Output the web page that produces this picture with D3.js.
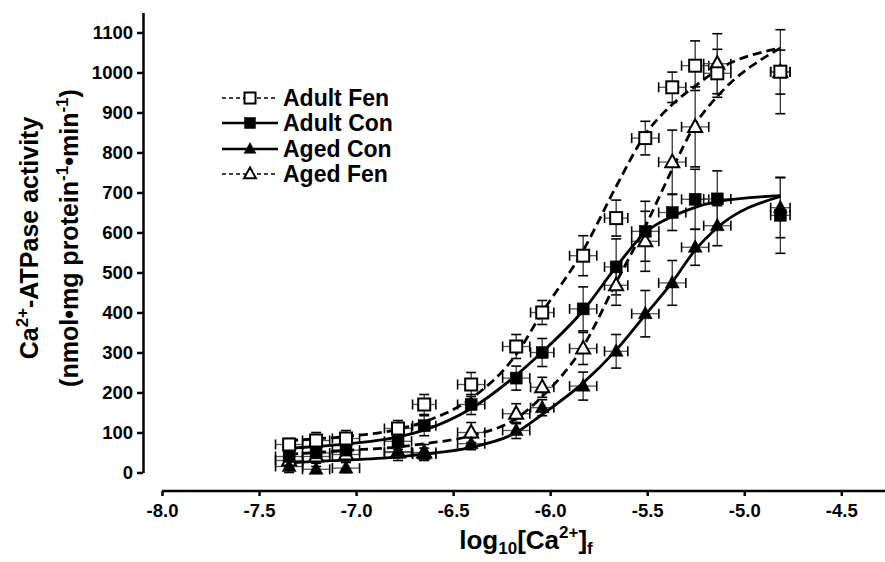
<!DOCTYPE html>
<html>
<head>
<meta charset="utf-8">
<script src="https://cdn.jsdelivr.net/npm/d3@7"></script>
<style>
  body { margin: 0; background: #fff; }
  svg { display: block; font-family: "Liberation Sans", Arial, sans-serif; font-weight: bold; }
  .axis path, .axis line { stroke: #000; stroke-width: 2.5; }
  .axis text { font-size: 18.5px; font-weight: bold; fill: #000; }
</style>
</head>
<body>
<svg class="main" width="885" height="562"></svg>
<script>
// log10[Ca2+]f for each measured point (shared by all four groups)
const caLevels = [-7.345, -7.206, -7.052, -6.784, -6.649, -6.407, -6.175, -6.041,
  -5.83, -5.66, -5.51, -5.371, -5.253, -5.139, -4.814];
const xErr = [0.07, 0.07, 0.07, 0.07, 0.06, 0.07, 0.07, 0.06, 0.07, 0.06, 0.07, 0.07, 0.07, 0.07, 0.05];

const adultFen = [70, 80, 85, 110, 170, 220, 315, 400, 542, 636, 836, 963, 1017, 998, 1002];
const adultFenErr = [15, 20, 20, 20, 25, 30, 30, 30, 50, 45, 42, 38, 62, 60, 105];
const adultCon = [40, 49, 56, 78, 117, 170, 236, 300, 409, 514, 603, 650, 683, 684, 643];
const adultConErr = [20, 20, 25, 20, 25, 25, 30, 35, 55, 70, 75, 45, 75, 70, 95];
const agedCon = [15, 8, 11, 52, 46, 72, 105, 162, 216, 303, 397, 474, 563, 617, 662];
const agedConErr = [20, 15, 15, 15, 15, 15, 20, 20, 35, 42, 58, 56, 45, 50, 75];
const agedFen = [30, 40, 45, 50, 50, 100, 147, 213, 310, 468, 578, 776, 864, 1022, 1001];
const agedFenErr = [20, 25, 20, 20, 20, 25, 25, 25, 40, 50, 75, 80, 100, 75, 55];

// fitted curves at the same x positions
const adultFenFit = [80, 84, 90, 108, 127, 185, 295, 400, 555, 715, 845, 920, 966, 1006, 1061];
const adultConFit = [61, 65, 71, 89, 106, 160, 243, 301, 405, 514, 600, 640, 663, 677, 692];
const agedConFit = [24, 28, 31, 39, 46, 63, 100, 145, 224, 306, 394, 476, 556, 612, 690];
const agedFenFit = [46, 50, 55, 64, 72, 92, 135, 190, 315, 475, 615, 758, 870, 940, 1061];

const xTicks = [-8.0, -7.5, -7.0, -6.5, -6.0, -5.5, -5.0, -4.5];
const yTicks = [0, 100, 200, 300, 400, 500, 600, 700, 800, 900, 1000, 1100];
const groups = ["Adult Fen", "Adult Con", "Aged Con", "Aged Fen"];

const series = [
  { name: groups[0], y: adultFen, err: adultFenErr, fit: adultFenFit, dashed: true, shape: "square", filled: false },
  { name: groups[1], y: adultCon, err: adultConErr, fit: adultConFit, dashed: false, shape: "square", filled: true },
  { name: groups[2], y: agedCon, err: agedConErr, fit: agedConFit, dashed: false, shape: "triangle", filled: true },
  { name: groups[3], y: agedFen, err: agedFenErr, fit: agedFenFit, dashed: true, shape: "triangle", filled: false }
];

const svg = d3.select(".main");

const x = d3.scaleLinear().domain([-8, -4.5]).range([162, 841.3]);
const y = d3.scaleLinear().domain([0, 1150]).range([472.5, 12.5]);

// axes
svg.append("g")
  .attr("class", "axis")
  .attr("transform", "translate(0,491)")
  .call(d3.axisBottom(x).tickValues(xTicks).tickSize(5).tickPadding(8).tickSizeOuter(0))
  .call(g => g.select(".domain").attr("d", `M${x(-8)},0H885`))
  .call(g => g.selectAll("text").text(d => d.toFixed(1)));

svg.append("g")
  .attr("class", "axis")
  .attr("transform", "translate(143,0)")
  .call(d3.axisLeft(y).tickValues(yTicks).tickFormat(d3.format("d")).tickSize(6).tickPadding(4).tickSizeOuter(0));

// error bars
const errG = svg.append("g");
series.forEach(s => {
  caLevels.forEach((cx, i) => {
    const px = x(cx), py = y(s.y[i]);
    const top = y(s.y[i] + s.err[i]), bot = y(Math.max(0, s.y[i] - s.err[i]));
    const left = x(cx - xErr[i]), right = x(cx + xErr[i]);
    errG.append("line").attr("x1", px).attr("x2", px).attr("y1", top).attr("y2", bot)
      .attr("stroke", "#333").attr("stroke-width", 1.3);
    errG.append("line").attr("x1", left).attr("x2", right).attr("y1", py).attr("y2", py)
      .attr("stroke", "#555").attr("stroke-width", 1.3);
    [top, bot].forEach(cy => errG.append("line").attr("x1", px - 5).attr("x2", px + 5)
      .attr("y1", cy).attr("y2", cy).attr("stroke", "#000").attr("stroke-width", 1.6));
    [left, right].forEach(cxx => errG.append("line").attr("x1", cxx).attr("x2", cxx)
      .attr("y1", py - 5).attr("y2", py + 5).attr("stroke", "#000").attr("stroke-width", 1.6));
  });
});

// fitted curves
const line = d3.line()
  .x((d, i) => x(caLevels[i]))
  .y(d => y(d))
  .curve(d3.curveMonotoneX);

series.forEach(s => {
  svg.append("path")
    .attr("d", line(s.fit))
    .attr("fill", "none")
    .attr("stroke", "#000")
    .attr("stroke-width", 2.8)
    .attr("stroke-dasharray", s.dashed ? "9,5" : null);
});

// markers
function marker(sel, shape, filled, cx, cy, size) {
  if (shape === "square") {
    sel.append("rect")
      .attr("x", cx - size / 2).attr("y", cy - size / 2)
      .attr("width", size).attr("height", size)
      .attr("fill", filled ? "#000" : "#fff")
      .attr("stroke", "#000").attr("stroke-width", filled ? 0.5 : 2);
  } else {
    const h = size * 0.9;
    sel.append("path")
      .attr("d", `M${cx},${cy - h * 0.6}L${cx + size / 2},${cy + h * 0.4}L${cx - size / 2},${cy + h * 0.4}Z`)
      .attr("fill", filled ? "#000" : "#fff")
      .attr("stroke", "#000").attr("stroke-width", filled ? 0.5 : 2);
  }
}

const markG = svg.append("g");
[series[3], series[2], series[1], series[0]].forEach(s => {
  caLevels.forEach((cx, i) => marker(markG, s.shape, s.filled, x(cx), y(s.y[i]), s.shape === "square" ? 12 : 14));
});

// legend
const legendRows = [98, 123, 149, 174];
const legend = svg.append("g");
series.forEach((s, i) => {
  const ly = legendRows[i];
  legend.append("line")
    .attr("x1", 222).attr("x2", 278).attr("y1", ly).attr("y2", ly)
    .attr("stroke", "#000")
    .attr("stroke-width", s.dashed ? 1.6 : 2.4)
    .attr("stroke-dasharray", s.dashed ? "4,3" : null);
  marker(legend, s.shape, s.filled, 250, ly, s.shape === "square" ? 11 : 12);
  legend.append("text")
    .attr("x", 283).attr("y", ly + 8)
    .attr("font-size", 23)
    .text(s.name);
});

// y axis title
const yTitle = svg.append("g").attr("transform", "translate(0,238) rotate(-90)");
const t1 = yTitle.append("text").attr("x", 0).attr("y", 38).attr("text-anchor", "middle").attr("font-size", 25);
t1.append("tspan").text("Ca");
t1.append("tspan").attr("dy", -10).attr("font-size", 17).text("2+");
t1.append("tspan").attr("dy", 10).text("-ATPase activity");
const t2 = yTitle.append("text").attr("x", 0).attr("y", 78).attr("text-anchor", "middle").attr("font-size", 25);
t2.append("tspan").text("(nmol\u2022mg protein");
t2.append("tspan").attr("dy", -10).attr("font-size", 17).text("-1");
t2.append("tspan").attr("dy", 10).text("\u2022min");
t2.append("tspan").attr("dy", -10).attr("font-size", 17).text("-1");
t2.append("tspan").attr("dy", 10).text(")");

// x axis title
const xt = svg.append("text").attr("x", 526).attr("y", 549).attr("text-anchor", "middle").attr("font-size", 26);
xt.append("tspan").text("log");
xt.append("tspan").attr("dy", 5).attr("font-size", 17).text("10");
xt.append("tspan").attr("dy", -5).text("[Ca");
xt.append("tspan").attr("dy", -11).attr("font-size", 17).text("2+");
xt.append("tspan").attr("dy", 11).text("]");
xt.append("tspan").attr("dy", 5).attr("font-size", 17).text("f");
</script>
</body>
</html>
